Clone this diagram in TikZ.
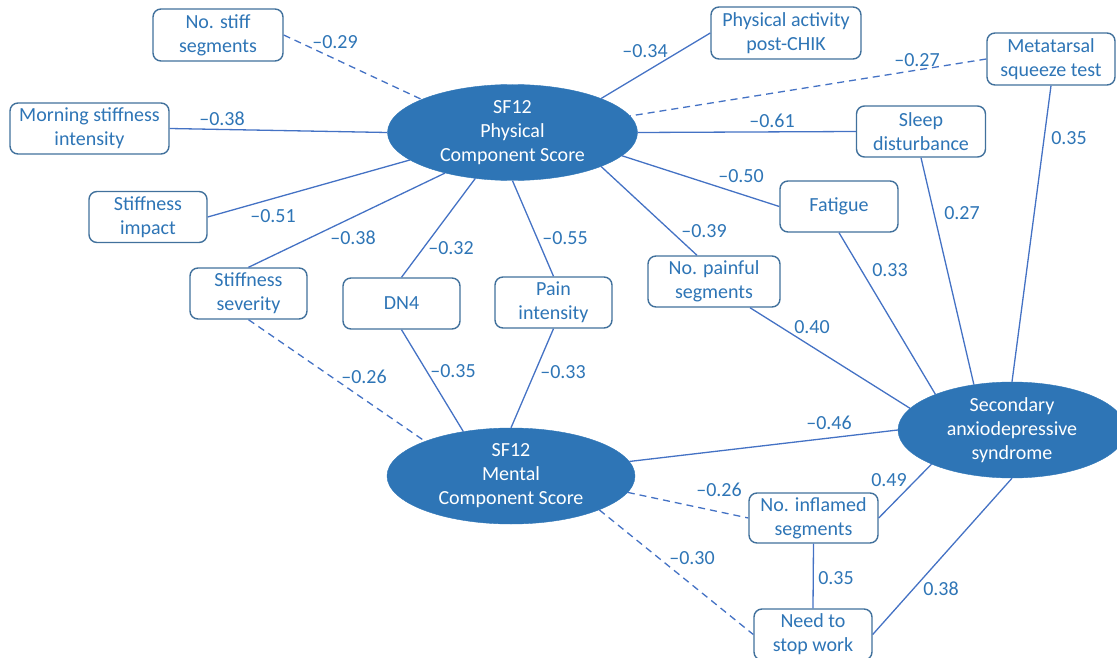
\documentclass[tikz,border=0pt]{standalone}
\usepackage{fontspec}
\setmainfont{Carlito}
\usetikzlibrary{shapes.geometric,calc}
\definecolor{ellfill}{HTML}{2E75B6}
\definecolor{boxline}{HTML}{41719C}
\definecolor{connc}{HTML}{4472C4}
\definecolor{txt}{HTML}{2E75B6}
\begin{document}
\begin{tikzpicture}[x=1pt,y=-1pt,
  box/.style={draw=boxline, line width=1.4pt, rounded corners=8pt, fill=white, text=txt,
    align=center, font=\fontsize{20}{24}\selectfont, inner sep=0pt, minimum height=51pt},
  ell/.style={ellipse, fill=ellfill, draw=ellfill, text=white, align=center,
    font=\fontsize{20}{24}\selectfont, inner sep=0pt},
  link/.style={draw=connc, line width=1.3pt},
  dlink/.style={link, dash pattern=on 7pt off 5pt},
  lbl/.style={text=txt, font=\fontsize{20}{24}\selectfont, inner sep=0pt}]
\useasboundingbox (0,0) rectangle (1117,658);
\clip (0,0) rectangle (1117,658);

% ellipses
\node[ell, minimum width=250pt, minimum height=96pt] (phys) at (512.5,132.5) {SF12\\Physical\\Component Score};
\node[ell, minimum width=248pt, minimum height=96pt] (ment) at (511,476) {SF12\\Mental\\Component Score};
\node[ell, minimum width=228pt, minimum height=96pt] (sec) at (1012,430) {Secondary\\anxiodepressive\\syndrome};

% boxes
\node[box, minimum width=130pt, minimum height=52pt] (nss) at (218,35) {No. stiff\\segments};
\node[box, minimum width=159pt] (msi) at (89.5,128.5) {Morning stiffness\\intensity};
\node[box, minimum width=118pt] (simp) at (148,217) {Stiffness\\impact};
\node[box, minimum width=117pt] (ssev) at (248.5,293.5) {Stiffness\\severity};
\node[box, minimum width=117pt] (dn4) at (401.5,303.5) {DN4};
\node[box, minimum width=117pt] (pain) at (553.5,302.5) {Pain\\intensity};
\node[box, minimum width=132pt] (npain) at (714,281.5) {No. painful\\segments};
\node[box, minimum width=118pt] (fat) at (839,206.5) {Fatigue};
\node[box, minimum width=129pt] (sleep) at (921,131.5) {Sleep\\disturbance};
\node[box, minimum width=150pt, minimum height=52pt] (pact) at (786,33) {Physical activity\\post-CHIK};
\node[box, minimum width=128pt, minimum height=52pt] (meta) at (1051,59) {Metatarsal\\squeeze test};
\node[box, minimum width=129pt, minimum height=50pt] (ninf) at (813.5,518) {No. inflamed\\segments};
\node[box, minimum width=118pt] (stop) at (813,634.5) {Need to\\stop work};

% connectors to physical component score
\draw[dlink] (nss.east) -- (phys.160);
\draw[link] (msi.east) -- (phys.180);
\draw[link] (simp.east) -- (phys.195.5);
\draw[link] (ssev.north) -- (phys.211);
\draw[link] (dn4.north) -- (phys.231);
\draw[link] (pain.north) -- (phys.270);
\draw[link] ([xshift=-17pt]npain.north) -- (phys.339);
\draw[link] (fat.west) -- (phys.348.5);
\draw[link] (sleep.west) -- (phys.0);
\draw[link] (pact.west) -- (phys.21.5);
\draw[dlink] (meta.west) -- (phys.8.3);

% connectors to mental component score
\draw[dlink] (ssev.south) -- (ment.158);
\draw[link] (dn4.south) -- (ment.137.5);
\draw[link] (pain.south) -- (ment.90);
\draw[link] (ment.7) -- (sec.180);
\draw[dlink] (ment.352) -- (ninf.west);
\draw[dlink] (ment.339) -- (stop.west);

% connectors to secondary syndrome
\draw[link] ([xshift=36pt]npain.south) -- (sec.168);
\draw[link] (fat.south) -- (sec.155);
\draw[link] (sleep.south) -- (sec.130);
\draw[link] (meta.south) -- (sec.90);
\draw[link] (sec.203.6) -- (ninf.east);
\draw[link] (ninf.south) -- (stop.north);
\draw[link] (sec.270) -- (stop.east);

% labels
\node[lbl] (l1) at (335,42) {–0.29};
\node[lbl] (l2) at (222,119) {–0.38};
\node[lbl] (l3) at (273,216) {–0.51};
\node[lbl] (l4) at (353,238) {–0.38};
\node[lbl] (l5) at (451,248) {–0.32};
\node[lbl] (l6) at (565,238) {–0.55};
\node[lbl] (l7) at (704,231) {–0.39};
\node[lbl] (l8) at (741,176) {–0.50};
\node[lbl] (l9) at (772,121) {–0.61};
\node[lbl] (l10) at (645,51) {–0.34};
\node[lbl] (l11) at (917,60) {–0.27};
\node[lbl] (l12) at (1069,138) {0.35};
\node[lbl] (l13) at (962,213) {0.27};
\node[lbl] (l14) at (890,270) {0.33};
\node[lbl] (l15) at (812,327) {0.40};
\node[lbl] (l16) at (364,377) {–0.26};
\node[lbl] (l17) at (453,371) {–0.35};
\node[lbl] (l18) at (563,372) {–0.33};
\node[lbl] (l19) at (829,423) {–0.46};
\node[lbl] (l20) at (889,480) {0.49};
\node[lbl] (l21) at (719,490) {–0.26};
\node[lbl] (l22) at (692,558) {–0.30};
\node[lbl] (l23) at (836,578) {0.35};
\node[lbl] (l24) at (941,589) {0.38};
\end{tikzpicture}
\end{document}
